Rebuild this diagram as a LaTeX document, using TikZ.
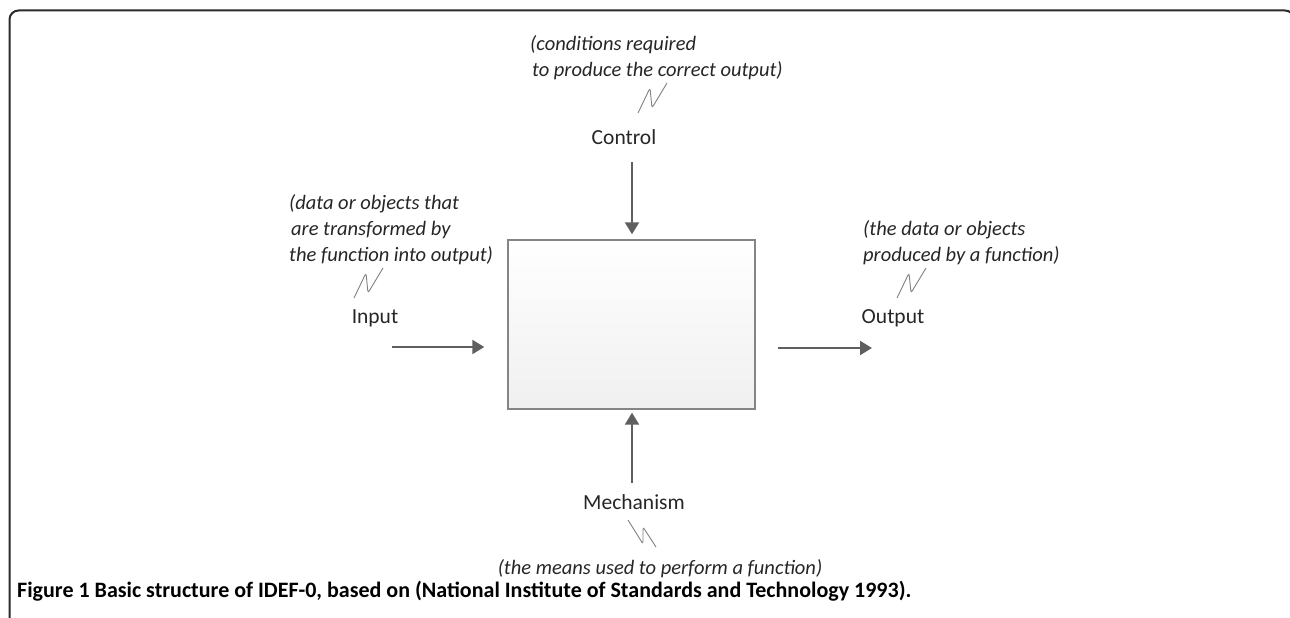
\documentclass[tikz,border=0pt]{standalone}
\usepackage{fontspec}
\setmainfont{Carlito}
\usetikzlibrary{arrows.meta,calc}
\definecolor{arrgray}{HTML}{5F5F5F}
\definecolor{boxgray}{HTML}{858585}
\definecolor{txt}{HTML}{262626}
\definecolor{frame}{HTML}{2A2A2A}
\tikzset{
  lbl/.style={inner sep=0pt, text=txt, font=\fontsize{21.5}{25}\selectfont},
  note/.style={inner sep=0pt, text=txt, align=left, font=\fontsize{20.5}{26}\selectfont\itshape},
  arr/.style={draw=arrgray, line width=2.2pt, -{Triangle[width=14pt,length=12pt]}},
  squigline/.style={draw=gray, line width=0.9pt, rounded corners=2.5pt},
  squigup/.pic={\draw[squigline] (0,0) -- (12,-25) -- (14,-5) -- (29,-30);},
  squigdown/.pic={\draw[squigline] (0,0) -- (15,24) -- (15,7) -- (28,27);},
}
\begin{document}
\begin{tikzpicture}[x=1pt,y=-1pt]
\useasboundingbox (0,0) rectangle (1290,618);
% frame
\draw[frame, line width=2pt, rounded corners=9pt] (9.5,630) -- (9.5,10.5) -- (1294,10.5) -- (1294,60);
% function box
\node[draw=boxgray, line width=1.4pt, top color=white, bottom color=black!6,
      minimum width=247pt, minimum height=169pt, inner sep=0pt] (func) at (631.5,324.5) {};
% labels
\node[lbl] (ctrl) at (624,137) {Control};
\node[lbl] (inp) at (375,318) {Input};
\node[lbl] (outp) at (893,318) {Output};
\node[lbl] (mech) at (634,502) {Mechanism};
% notes
\node[note, anchor=west] (ctrlnote) at (530,57.5) {(conditions required\\\hspace{2pt}to produce the correct output)};
\node[note, anchor=west] (inpnote) at (289,229.5) {(data or objects that\\\hspace{2pt}are transformed by\\the function into output)};
\node[note, anchor=west] (outpnote) at (863,243) {(the data or objects\\produced by a function)};
\node[note] (mechnote) at (660,569) {(the means used to perform a function)};
% squiggles
\pic at (638,113) {squigup};
\pic at (354,298) {squigup};
\pic at (897,298) {squigup};
\pic at (628,520) {squigdown};
% connectors
\coordinate (c0) at (632,162);
\coordinate (i0) at (392,347);
\coordinate (o1) at (872,348);
\coordinate (m0) at (632,483);
\draw[arr, shorten >=5pt] (c0) -- (c0 |- func.north);
\draw[arr, shorten >=23pt] (i0) -- (i0 -| func.west);
\draw[arr, shorten <=22pt] (func.east |- o1) -- (o1);
\draw[arr, shorten >=3pt] (m0) -- (m0 |- func.south);
% caption
\node[inner sep=0pt, anchor=west, text=black, font=\bfseries\fontsize{22}{26}\selectfont] (cap) at (17,591)
  {Figure 1 Basic structure of IDEF-0, based on (National Institute of Standards and Technology 1993).};
\end{tikzpicture}
\end{document}
